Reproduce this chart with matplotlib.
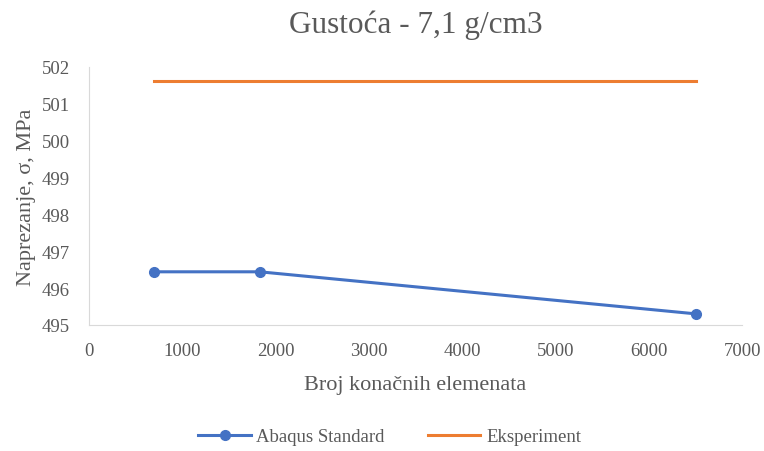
import matplotlib
matplotlib.use('Agg')
import matplotlib.pyplot as plt

# podaci
elementi = [700, 1830, 6500]
abaqus = [496.44, 496.44, 495.30]
eksp_x = [700, 6500]
eksperiment = [501.62, 501.62]

plt.rcParams['font.family'] = ['Liberation Serif', 'DejaVu Serif']
siva = '#595959'

fig = plt.figure(figsize=(7.64, 4.52), dpi=100)
ax = fig.add_axes([0.1165, 0.279, 0.855, 0.571])

ax.plot(elementi, abaqus, marker='o', markersize=7, linewidth=2.2,
        color='#4472C4', label='Abaqus Standard')
ax.plot(eksp_x, eksperiment, linewidth=2.2, color='#ED7D31', label='Eksperiment')

ax.set_xlim(0, 7000)
ax.set_ylim(495, 502)
ax.set_xticks(range(0, 7001, 1000))
ax.set_yticks(range(495, 503))

for s in ['top', 'right']:
    ax.spines[s].set_visible(False)
for s in ['left', 'bottom']:
    ax.spines[s].set_color('#D9D9D9')
ax.tick_params(length=0, labelsize=13.5, colors=siva)
ax.tick_params(axis='y', pad=14)
ax.tick_params(axis='x', pad=12)

ax.set_title('Gustoća - 7,1 g/cm3', fontsize=22.5, color=siva, pad=25)
ax.set_xlabel('Broj konačnih elemenata', fontsize=16, color=siva, labelpad=12)
ax.set_ylabel('Naprezanje, σ, MPa', fontsize=16, color=siva, labelpad=4)

fig.legend(loc='lower center', bbox_to_anchor=(0.51, -0.025), ncol=2, frameon=False,
           fontsize=13.5, labelcolor=siva, handlelength=2.8, handletextpad=0.3,
           columnspacing=2.3)

fig.savefig('out.png', dpi=100)
